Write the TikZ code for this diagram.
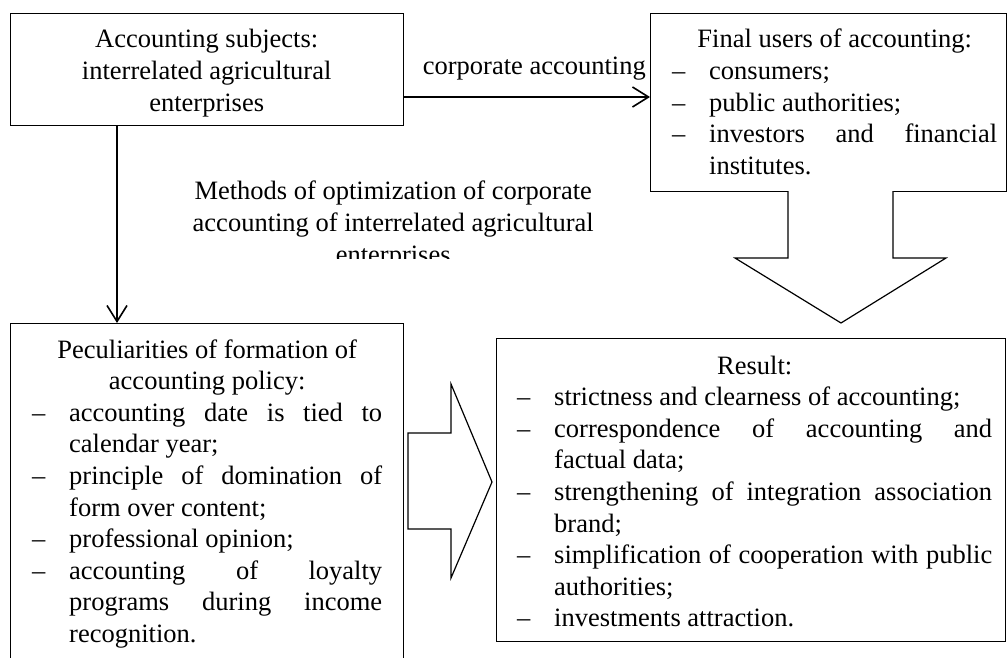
\documentclass[tikz,border=0pt]{standalone}
\usepackage{fontspec}
\setmainfont{Liberation Serif}
\usetikzlibrary{arrows.meta}
\newcommand{\itm}{\par\noindent\hangindent=37pt\hangafter=1\hbox to 37pt{–\hfil}\ignorespaces}
\tikzset{
  box/.style={draw, line width=1.2pt, inner sep=0pt, anchor=north west},
  txt/.style={inner sep=0pt, anchor=base west, font=\fontsize{26.5}{31.6}\selectfont},
  arr/.style={line width=1.6pt, -{Straight Barb[length=16pt,width=20pt,line width=1.6pt]}},
  blk/.style={draw, line width=1.2pt, fill=white, line join=miter}
}
\begin{document}
\begin{tikzpicture}[x=1pt,y=-1pt]
\useasboundingbox (0,0) rectangle (1007,658);
\clip (0,0) rectangle (1007,658);
\fill[white] (0,0) rectangle (1007,658);
% boxes
\node[box, minimum width=393pt, minimum height=112pt] (b1) at (10,13) {};
\node[box, minimum width=356pt, minimum height=178pt] (b2) at (650,13) {};
\node[box, minimum width=393pt, minimum height=420pt] (b3) at (10,323) {};
\node[box, minimum width=509pt, minimum height=303pt] (b4) at (496,338) {};
% texts
\node[txt] (t1) at (10,48) {\vtop{\hsize=393pt\parindent0pt
 \centerline{Accounting subjects:}
 \centerline{interrelated agricultural}
 \centerline{enterprises}}};
\node[txt] (t2) at (672,48) {\vtop{\hsize=325pt\parindent0pt\hyphenpenalty10000
 \centerline{Final users of accounting:}
 \itm consumers;
 \itm public authorities;
 \itm investors and financial\linebreak institutes.\par}};
\node[txt] (t3) at (32,358) {\vtop{\hsize=350pt\parindent0pt\hyphenpenalty10000
 \centerline{Peculiarities of formation of}
 \centerline{accounting policy:}
 \itm accounting date is tied to\linebreak calendar year;
 \itm principle of domination of\linebreak form over content;
 \itm professional opinion;
 \itm accounting of loyalty\linebreak programs during income\linebreak recognition.\par}};
\node[txt] (t4) at (517,374) {\vtop{\hsize=475pt\parindent0pt\hyphenpenalty10000
 \centerline{Result:}
 \itm strictness and clearness of accounting;
 \itm correspondence of accounting and\linebreak factual data;
 \itm strengthening of integration association\linebreak brand;
 \itm simplification of cooperation with public\linebreak authorities;
 \itm investments attraction.\par}};
\node[txt, anchor=base east] (lab) at (646,75) {corporate accounting};
\begin{scope}
\clip (140,170) rectangle (640,258);
\node[txt] (meth) at (153,200) {\vtop{\hsize=480pt\parindent0pt
 \centerline{Methods of optimization of corporate}
 \centerline{accounting of interrelated agricultural}
 \centerline{enterprises}}};
\end{scope}
% connectors
\draw[arr] (b1.east |- 0,97) -- (b2.west |- 0,97);
\draw[arr] (b1.south -| 117,0) -- (b3.north -| 117,0);
% block arrows
\draw[blk] (788,191) -- (788,258) -- (735,258) -- (841,323) -- (946,258) -- (893,258) -- (893,191);
\draw[blk] (408,433) -- (451,433) -- (451,384) -- (492,482) -- (451,578) -- (451,529) -- (408,529) -- cycle;
\end{tikzpicture}
\end{document}
